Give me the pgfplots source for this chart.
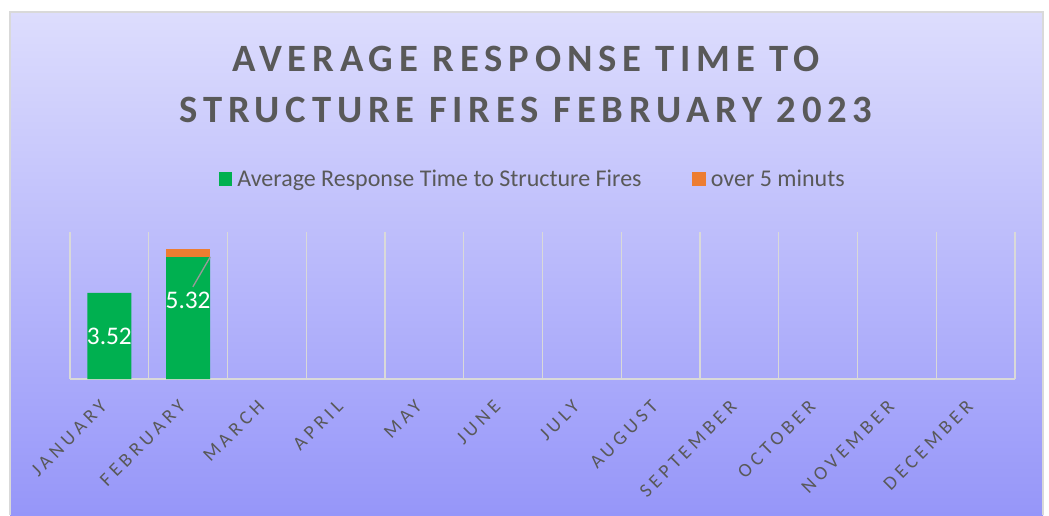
\documentclass[border=0pt]{standalone}
\usepackage{pgfplots}
\pgfplotsset{compat=1.18}
\usepackage{fontspec}
\setmainfont{Carlito}
\newfontfamily\titlefont[LetterSpace=15]{Carlito}
\newfontfamily\tickfont[LetterSpace=22]{Carlito}
\definecolor{txt}{RGB}{89,89,89}
\definecolor{gbar}{RGB}{0,176,80}
\definecolor{obar}{RGB}{237,125,49}
\definecolor{bgtop}{RGB}{221,221,253}
\definecolor{bgbot}{RGB}{150,150,249}
\definecolor{grd}{RGB}{217,217,217}
\begin{document}
\begin{tikzpicture}[x=0.75pt,y=0.75pt]
\useasboundingbox (0,0) rectangle (1049,515);
\shade[top color=bgtop,bottom color=bgbot] (10,0) rectangle (1043,503);
\draw[grd,line width=1pt] (10,0) -- (10,503) -- (1043,503) -- (1043,0);
\node[anchor=base,text=txt,font=\titlefont\bfseries\fontsize{29}{34}\selectfont] at (526,443) {AVERAGE RESPONSE TIME TO};
\node[anchor=base,text=txt,font=\titlefont\bfseries\fontsize{29}{34}\selectfont] at (526,392) {STRUCTURE FIRES FEBRUARY 2023};
\begin{axis}[
  at={(52.5pt,102pt)}, anchor=south west,
  scale only axis, width=708.75pt, height=110.25pt,
  ybar stacked, bar width=0.56, reverse stacked plots=false,
  xmin=-0.5, xmax=11.5, ymin=0, ymax=6,
  axis line style={draw=none},
  ytick=\empty,
  xtick={0,...,11},
  xticklabels={JANUARY,FEBRUARY,MARCH,APRIL,MAY,JUNE,JULY,AUGUST,SEPTEMBER,OCTOBER,NOVEMBER,DECEMBER},
  xticklabel style={xshift=-2pt,yshift=-16pt,rotate=45,anchor=east,text=txt,font=\tickfont\fontsize{14.5}{16}\selectfont},
  major tick length=0pt,
  minor xtick={-0.5,0.5,...,11.5},
  minor tick length=0pt,
  xminorgrids,
  minor grid style={grd,line width=1.1pt},
  clip=false,
  legend style={at={(0.490,1.36)},anchor=center,draw=none,fill=none,
    legend columns=2,font=\fontsize{18}{21}\selectfont,text=txt,
    /tikz/every even column/.append style={column sep=36pt}},
  legend image code/.code={\fill[#1] (0pt,-5pt) rectangle (10pt,5pt);},
]
\draw[grd,line width=1.3pt] (axis cs:-0.5,0) -- (axis cs:11.5,0);
\addplot[fill=gbar,draw=none] coordinates {(0,3.52) (1,5.0)};
\addlegendentry{\hspace{2pt}Average Response Time to Structure Fires}
\addplot[fill=obar,draw=none] coordinates {(0,0) (1,0.32)};
\addlegendentry{\hspace{2pt}over 5 minuts}
\addplot[forget plot, stack plots=false, sharp plot, draw=gray!80, line width=1pt, fill=none, mark=none]
  coordinates {(1.06,3.76) (1.28,4.98)};
% label plot: nodes near coords in stacked bars sit at half the given height
\addplot[forget plot, stack plots=false, only marks, mark=none, draw=none, fill=none,
  nodes near coords, point meta=explicit symbolic,
  nodes near coords style={anchor=center, text=white, font=\fontsize{19}{22}\selectfont}]
  coordinates {(0,3.52)[3.52] (1,6.44)[5.32]};
\end{axis}
\end{tikzpicture}
\end{document}
